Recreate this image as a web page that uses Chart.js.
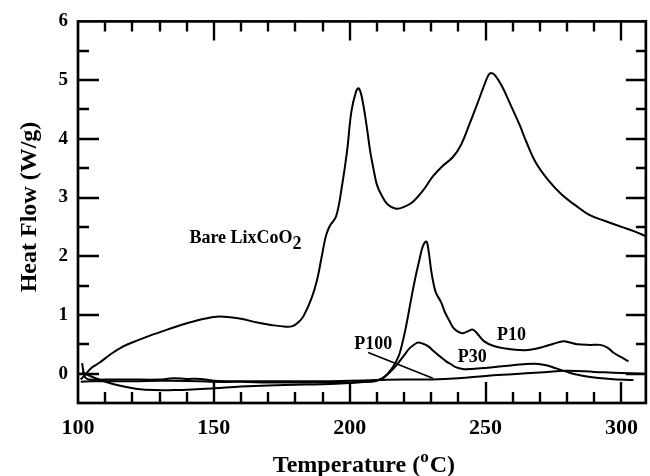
<!DOCTYPE html>
<html>
<head>
<meta charset="utf-8">
<script src="https://cdn.jsdelivr.net/npm/chart.js@4.4.1/dist/chart.umd.min.js"></script>
<style>
  html, body { margin: 0; padding: 0; background: #ffffff; }
  #wrap { width: 650px; height: 476px; }
</style>
</head>
<body>
<div id="wrap"><canvas id="c" width="650" height="476"></canvas></div>
<script>
// ---------- Data ----------
const bareT  = [101,103,105,108,112,116.5,121,126,131,136,141,146,151,156,160.5,166,171,176.5,179,181,183,186,188,189.6,191,192,193,195,197,199,200.6,202.3,203.3,204.5,206.2,207.5,208.7,210,211.6,214,217,220,223.3,227,230.6,234,238,241,244,247,249,251,252,253.5,256,259,262.5,265,268.3,273,278,283,288,294,300,305,309];
const bareHF = [-0.10,0.00,0.10,0.19,0.33,0.46,0.55,0.64,0.72,0.80,0.87,0.93,0.97,0.96,0.93,0.87,0.83,0.80,0.81,0.87,0.98,1.29,1.60,1.97,2.30,2.45,2.54,2.68,3.15,3.78,4.46,4.80,4.86,4.70,4.23,3.80,3.50,3.22,3.05,2.88,2.81,2.84,2.93,3.12,3.36,3.53,3.69,3.90,4.24,4.60,4.85,5.08,5.12,5.08,4.90,4.60,4.24,3.95,3.61,3.30,3.05,2.87,2.71,2.60,2.50,2.42,2.34];

const p10T  = [101,105,110,120,130,135,145,150,160,170,180,190,200,205,208,210,212,214,216,218,219,220.5,222.7,224,225.8,227,228.2,229,230,231,231.8,233.7,235,236.7,238,240,241.6,243.5,245.3,247,249.5,253,257,264,268,271.5,275,278.8,281,283.7,288.5,292.2,295,297,300,302.6];
const p10HF = [-0.14,-0.13,-0.13,-0.13,-0.12,-0.12,-0.13,-0.14,-0.14,-0.15,-0.15,-0.15,-0.15,-0.14,-0.13,-0.11,-0.08,0.00,0.12,0.30,0.45,0.75,1.29,1.60,1.97,2.18,2.25,2.10,1.75,1.50,1.37,1.21,1.05,0.90,0.79,0.71,0.69,0.72,0.75,0.68,0.55,0.47,0.43,0.40,0.42,0.46,0.51,0.55,0.53,0.50,0.49,0.49,0.44,0.36,0.28,0.21];

const p30T  = [101.5,102.6,106,111,116,122,128,135,142,150,160,170,180,190,200,206,210,213,216.6,220.3,222,223.9,225.1,227,228.8,230.5,232.5,235.5,237.3,239,241.6,245,250.7,255,259.3,264,267.8,270,272.7,276,280,283,287.3,291,295.9,304.4];
const p30HF = [0.03,0.00,-0.07,-0.15,-0.21,-0.26,-0.28,-0.28,-0.27,-0.25,-0.22,-0.20,-0.19,-0.18,-0.16,-0.14,-0.12,-0.05,0.11,0.33,0.43,0.50,0.53,0.51,0.47,0.40,0.32,0.21,0.16,0.11,0.08,0.08,0.10,0.12,0.14,0.16,0.17,0.16,0.14,0.09,0.03,-0.01,-0.05,-0.07,-0.09,-0.11];

const p100T  = [101.5,102.5,104,110,120,130,135,140,145,150,160,170,180,190,200,210,220,230,240,250,260,270,280,290,300,309];
const p100HF = [0.18,-0.05,-0.10,-0.10,-0.10,-0.10,-0.08,-0.09,-0.09,-0.12,-0.13,-0.13,-0.13,-0.13,-0.12,-0.11,-0.10,-0.10,-0.08,-0.04,-0.01,0.02,0.05,0.03,0.01,0.00];

// leader line from the "P100" label to its curve
const leaderT  = [206.8, 230.6];
const leaderHF = [0.36, -0.08];

const xTickLabels = [100, 150, 200, 250, 300];
const yTickLabels = [0, 1, 2, 3, 4, 5, 6];

// ---------- helpers ----------
const FONT = '"Liberation Serif", "Times New Roman", serif';
function pts(xs, ys) { return xs.map((x, i) => ({ x: x, y: ys[i] })); }
function curve(label, xs, ys, w, tension) {
  return {
    label: label,
    data: pts(xs, ys),
    borderColor: '#000000',
    borderWidth: w,
    pointRadius: 0,
    fill: false,
    tension: tension,
    borderJoinStyle: 'round'
  };
}

// text annotations anchored in data coordinates
const annotations = [
  { parts: [{ t: 'Bare LixCoO', size: 18, dy: 0 }, { t: '2', size: 18, dy: 6 }], x: 141, y: 2.22 },
  { parts: [{ t: 'P100', size: 18, dy: 0 }], x: 201.7, y: 0.42 },
  { parts: [{ t: 'P30', size: 18, dy: 0 }], x: 239.8, y: 0.19 },
  { parts: [{ t: 'P10', size: 18, dy: 0 }], x: 254.2, y: 0.58 }
];

const framePlugin = {
  id: 'frame',
  afterDraw(chart) {
    const ctx = chart.ctx;
    const a = chart.chartArea;
    const xs = chart.scales.x, ys = chart.scales.y;
    ctx.save();
    ctx.strokeStyle = '#000';
    ctx.lineCap = 'butt';
    // ticks
    ctx.lineWidth = 2.4;
    for (let v = 110; v <= 300; v += 10) {
      const px = Math.round(xs.getPixelForValue(v));
      const major = (v % 50 === 0);
      ctx.beginPath();
      ctx.moveTo(px, a.bottom); ctx.lineTo(px, a.bottom - (major ? 21 : 11));
      ctx.moveTo(px, a.top); ctx.lineTo(px, a.top + (major ? 19 : 10));
      ctx.stroke();
    }
    for (let v = 0; v <= 5.5; v += 0.5) {
      const py = Math.round(ys.getPixelForValue(v));
      const major = Math.abs(v - Math.round(v)) < 1e-6;
      ctx.beginPath();
      ctx.moveTo(a.left, py); ctx.lineTo(a.left + (major ? 21 : 11), py);
      ctx.moveTo(a.right, py); ctx.lineTo(a.right - (major ? 20 : 10), py);
      ctx.stroke();
    }
    // frame
    ctx.lineWidth = 2.7;
    ctx.strokeRect(a.left, a.top, a.right - a.left, a.bottom - a.top);

    // annotations
    ctx.fillStyle = '#000';
    ctx.textBaseline = 'alphabetic';
    ctx.textAlign = 'left';
    annotations.forEach(an => {
      let px = xs.getPixelForValue(an.x);
      const py = ys.getPixelForValue(an.y);
      an.parts.forEach(p => {
        ctx.font = 'bold ' + p.size + 'px ' + FONT;
        ctx.fillText(p.t, px, py + p.dy);
        px += ctx.measureText(p.t).width;
      });
    });

    // x axis title with superscript
    const big = 'bold 24px ' + FONT, small = 'bold 17px ' + FONT;
    ctx.font = big;
    const w1 = ctx.measureText('Temperature (').width;
    const w3 = ctx.measureText('C)').width;
    ctx.font = small;
    const w2 = ctx.measureText('o').width + 1;
    const total = w1 + w2 + w3;
    let tx = (a.left + a.right) / 2 + 2 - total / 2;
    const base = 472;
    ctx.font = big; ctx.fillText('Temperature (', tx, base); tx += w1;
    ctx.font = small; ctx.fillText('o', tx, base - 10); tx += w2;
    ctx.font = big; ctx.fillText('C)', tx, base);

    // y axis title
    ctx.save();
    ctx.translate(36, 207);
    ctx.rotate(-Math.PI / 2);
    ctx.textAlign = 'center';
    ctx.font = big;
    ctx.fillText('Heat Flow (W/g)', 0, 0);
    ctx.restore();
    ctx.restore();
  }
};

new Chart(document.getElementById('c'), {
  type: 'line',
  data: {
    datasets: [
      curve('Bare LixCoO2', bareT, bareHF, 2, 0.4),
      curve('P10', p10T, p10HF, 2, 0.4),
      curve('P30', p30T, p30HF, 2, 0.4),
      curve('P100', p100T, p100HF, 2, 0.4),
      curve('P100 leader', leaderT, leaderHF, 1.6, 0)
    ]
  },
  options: {
    responsive: false,
    devicePixelRatio: 1,
    animation: false,
    layout: { padding: { top: 19, right: 2, left: 0, bottom: 0 } },
    plugins: { legend: { display: false }, tooltip: { enabled: false } },
    scales: {
      x: {
        type: 'linear',
        min: 100, max: 309,
        grid: { display: false, drawTicks: false },
        border: { display: false },
        afterBuildTicks(scale) { scale.ticks = xTickLabels.map(v => ({ value: v })); },
        afterFit(scale) { scale.height = 73; },
        ticks: {
          color: '#000', padding: 12, maxRotation: 0, autoSkip: false,
          font: { family: FONT, size: 22, weight: 'bold' }
        }
      },
      y: {
        type: 'linear',
        min: -0.5, max: 6,
        grid: { display: false, drawTicks: false },
        border: { display: false },
        afterBuildTicks(scale) { scale.ticks = yTickLabels.map(v => ({ value: v })); },
        afterFit(scale) { scale.width = 78; },
        ticks: {
          color: '#000', padding: 10, autoSkip: false,
          font: { family: FONT, size: 19, weight: 'bold' }
        }
      }
    }
  },
  plugins: [framePlugin]
});
</script>
</body>
</html>
